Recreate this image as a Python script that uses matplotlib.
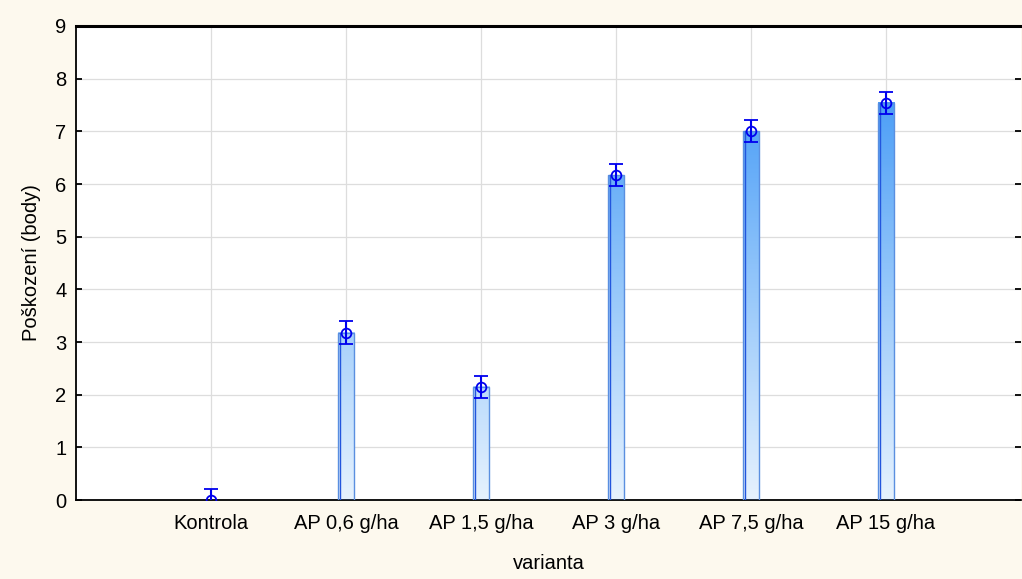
import matplotlib.pyplot as plt
import numpy as np
from matplotlib.colors import LinearSegmentedColormap

plt.rcParams['font.family'] = ['Liberation Sans', 'DejaVu Sans']

categories = ["Kontrola", "AP 0,6 g/ha", "AP 1,5 g/ha", "AP 3 g/ha", "AP 7,5 g/ha", "AP 15 g/ha"]
means = [0.0, 3.18, 2.15, 6.17, 7.00, 7.54]
errors = [0.21, 0.22, 0.21, 0.21, 0.21, 0.21]

bg = '#FDF9EE'
cmap = LinearSegmentedColormap.from_list("bar", ["#E6F2FE", "#8CC2FA", "#2F8EF5"])

fig = plt.figure(figsize=(10.22, 5.79), dpi=100, facecolor=bg)
ax = fig.add_axes([0.0744, 0.1364, 0.9246, 0.8187])
ax.set_facecolor('white')

x = np.arange(len(categories))
w = 0.12
ymax = 9

# bars with vertical gradient relative to the full y range
for xi, m in zip(x, means):
    if m <= 0:
        continue
    grad = np.linspace(0, m / ymax, 200).reshape(-1, 1)
    ax.imshow(grad, extent=[xi - w / 2, xi + w / 2, 0, m], origin='lower',
              aspect='auto', cmap=cmap, vmin=0, vmax=1, zorder=2)
    ax.add_patch(plt.Rectangle((xi - w / 2, 0), w, m, fill=False,
                               edgecolor='#5A8FE0', lw=1.0, zorder=3))
    ax.plot([xi - w / 2 + 0.018, xi - w / 2 + 0.018], [0, m], color='#2255DD', lw=1.0, zorder=3)

ax.errorbar(x, means, yerr=errors, fmt='o', color='#0000EE', mfc='none', mec='#0000EE',
            ms=7, mew=1.3, capsize=5, capthick=1.5, elinewidth=1.5, zorder=4)

ax.set_xlim(-1, 6.0)
ax.set_ylim(0, ymax)
ax.set_xticks(x)
ax.set_xticklabels(categories)
ax.set_yticks(range(0, 10))
ax.grid(True, color='#DDDDDD', lw=0.9, zorder=0)
ax.set_axisbelow(True)

for s in ['left', 'bottom']:
    ax.spines[s].set_linewidth(1.3)
ax.spines['top'].set_linewidth(2.2)
ax.spines['right'].set_visible(False)

ax.tick_params(axis='both', direction='in', length=4, width=1.3, labelsize=14.5,
               right=True, labelright=False, pad=7)
ax.tick_params(axis='x', pad=10)

ax.set_xlabel("varianta", fontsize=14.5, labelpad=15)
ax.set_ylabel("Poškození (body)", fontsize=14.5, labelpad=10)

fig.savefig("out.png", dpi=100, facecolor=bg)
